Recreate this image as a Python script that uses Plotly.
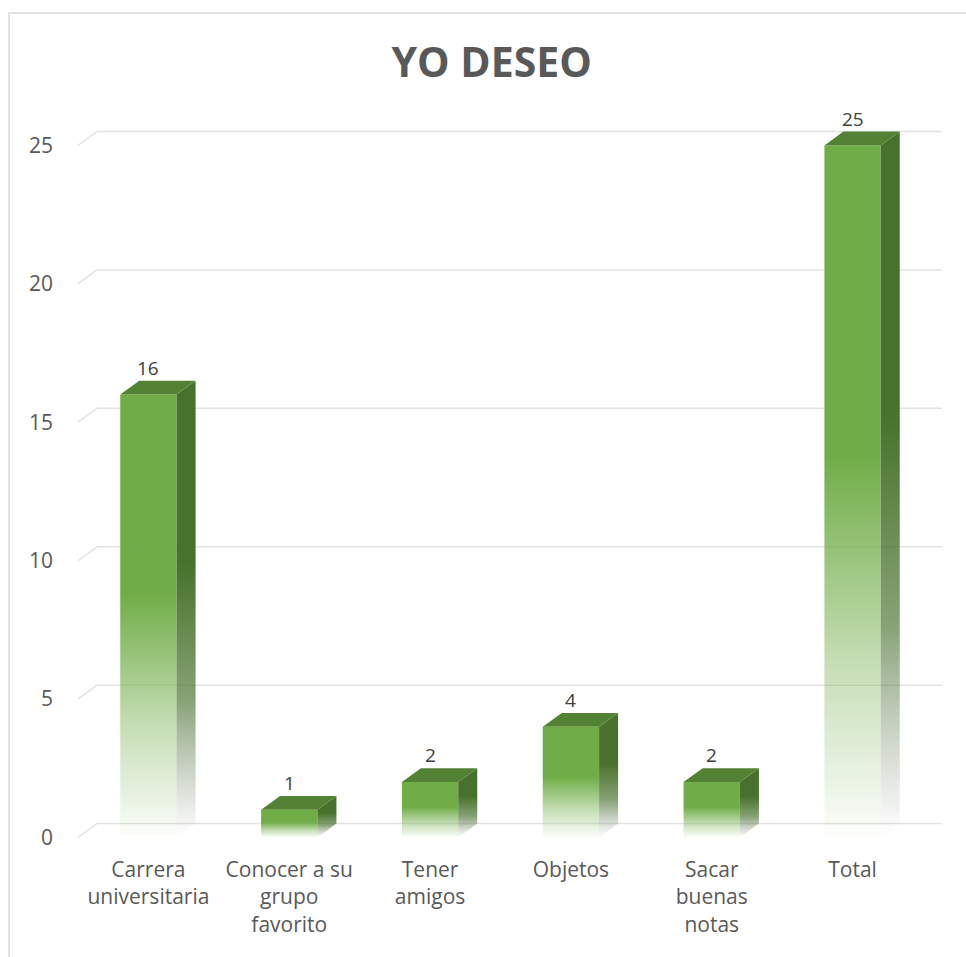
import plotly.graph_objects as go

# chart data
categories = ["Carrera<br>universitaria", "Conocer a su<br>grupo<br>favorito",
              "Tener<br>amigos", "Objetos", "Sacar<br>buenas<br>notas", "Total"]
values = [16, 1, 2, 4, 2, 25]
y_ticks = [0, 5, 10, 15, 20, 25]

# fake 3d look
BAR_W = 0.4
DX = 0.135   # depth offset along x (category units)
DY = 0.5     # depth offset along y (value units)

FRONT = "112,173,71"
SIDE = "71,113,44"
TOP = "#548235"
GRID = "#E3E3E3"
TXT = "#595959"
FONT = "Open Sans"

fig = go.Figure()

# back wall gridlines + floor diagonal
x_lo, x_hi = -0.5, len(categories) - 0.5
shapes = []
for t in y_ticks:
    shapes.append(dict(type="line", xref="x", yref="y", layer="below",
                       x0=x_lo + DX, x1=x_hi + DX, y0=t + DY, y1=t + DY,
                       line=dict(color=GRID, width=1.5)))
    shapes.append(dict(type="line", xref="x", yref="y", layer="below",
                       x0=x_lo, x1=x_lo + DX, y0=t, y1=t + DY,
                       line=dict(color=GRID, width=1.5)))

for i, v in enumerate(values):
    l, r = i - BAR_W / 2, i + BAR_W / 2
    # front face
    fig.add_trace(go.Scatter(
        x=[l, r, r, l, l], y=[0, 0, v, v, 0], mode="lines", fill="toself",
        line=dict(width=0), hoverinfo="skip", showlegend=False,
        fillgradient=dict(type="vertical", start=0, stop=v, colorscale=[
            [0, f"rgba({FRONT},0.02)"], [0.25, f"rgba({FRONT},0.4)"],
            [0.55, f"rgba({FRONT},1)"], [1, f"rgba({FRONT},1)"]])))
    # side face
    fig.add_trace(go.Scatter(
        x=[r, r + DX, r + DX, r, r], y=[0, DY, v + DY, v, 0], mode="lines", fill="toself",
        line=dict(width=0), hoverinfo="skip", showlegend=False,
        fillgradient=dict(type="vertical", start=0, stop=v + DY, colorscale=[
            [0, "rgba(110,120,105,0.0)"], [0.3, f"rgba({SIDE},0.65)"],
            [0.6, f"rgba({SIDE},1)"], [1, f"rgba({SIDE},1)"]])))
    # top face
    fig.add_trace(go.Scatter(
        x=[l, l + DX, r + DX, r, l], y=[v, v + DY, v + DY, v, v], mode="lines",
        fill="toself", fillcolor=TOP, line=dict(width=0),
        hoverinfo="skip", showlegend=False))
    fig.add_annotation(x=i, y=v + DY, text=str(v), showarrow=False,
                       yanchor="bottom", yshift=-2,
                       font=dict(family=FONT, size=19, color="#404040"))

# outer chart border
shapes.append(dict(type="rect", xref="paper", yref="paper",
                   x0=(9 - 78) / 864, x1=1.2, y0=-0.5, y1=(843.5 - 13) / 717.5,
                   line=dict(color="#D9D9D9", width=1.5)))

fig.update_layout(
    width=966, height=957,
    margin=dict(l=78, r=24, t=126, b=113.5),
    paper_bgcolor="white", plot_bgcolor="white",
    shapes=shapes,
    title=dict(text="<b>YO DESEO</b>", x=0.509, xanchor="center", y=1 - 63 / 957,
               yanchor="middle", font=dict(family=FONT, size=41, color=TXT)),
    xaxis=dict(range=[x_lo, x_hi + DX], tickvals=list(range(len(categories))),
               ticktext=categories, showgrid=False, zeroline=False, showline=False,
               ticks="", tickangle=0, ticklabelstandoff=12,
               tickfont=dict(family=FONT, size=21, color=TXT)),
    yaxis=dict(range=[-0.2, 25.7], tickvals=y_ticks, showgrid=False, zeroline=False,
               showline=False, ticks="", ticklabelstandoff=24,
               tickfont=dict(family=FONT, size=21, color=TXT)),
)

fig.write_html("out.html", config={"displayModeBar": False},
               post_script="document.body.style.margin='0';")
